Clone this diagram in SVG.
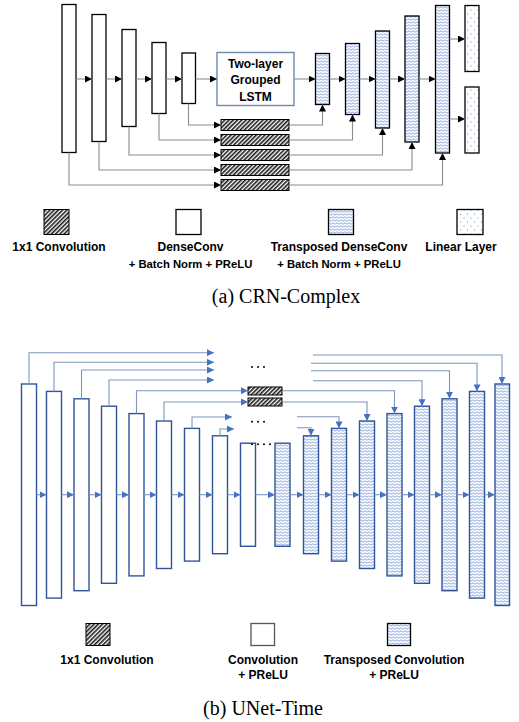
<svg xmlns="http://www.w3.org/2000/svg" width="519" height="722" viewBox="0 0 519 722">
<defs>
<pattern id="hatch" width="3" height="3" patternUnits="userSpaceOnUse" patternTransform="rotate(45)">
<rect width="3" height="3" fill="#ffffff"/>
<rect width="1.6" height="3" fill="#1a1a1a"/>
</pattern>
<pattern id="wave" width="4" height="3" patternUnits="userSpaceOnUse">
<rect width="4" height="3" fill="#ffffff"/>
<path d="M0 1.5 Q1 0 2 1.5 T4 1.5" fill="none" stroke="#6A8FD6" stroke-width="0.8"/>
</pattern>
<pattern id="dots" width="7" height="8" patternUnits="userSpaceOnUse">
<rect width="7" height="8" fill="#ffffff"/>
<circle cx="2" cy="2" r="0.55" fill="#4472C4"/>
<circle cx="5.5" cy="6" r="0.55" fill="#4472C4"/>
</pattern>
<marker id="ab" viewBox="0 0 10 10" refX="10" refY="5" markerWidth="7" markerHeight="7" markerUnits="userSpaceOnUse" orient="auto">
<path d="M0 0 L10 5 L0 10 Z" fill="#000000"/>
</marker>
<marker id="au" viewBox="0 0 10 10" refX="10" refY="5" markerWidth="7" markerHeight="7" markerUnits="userSpaceOnUse" orient="auto">
<path d="M0 0 L10 5 L0 10 Z" fill="#4472C4"/>
</marker>
</defs>
<style>
.eb{fill:#ffffff;stroke:#000000;stroke-width:1.3}
.tb{fill:url(#wave);stroke:#000000;stroke-width:1.3}
.lb{fill:url(#dots);stroke:#000000;stroke-width:1.3}
.hb{fill:url(#hatch);stroke:#000000;stroke-width:1}
.ln{fill:none;stroke:#8C8C8C;stroke-width:1.1;marker-end:url(#ab)}
.ue{fill:#ffffff;stroke:#2F5597;stroke-width:1.4}
.ud{fill:url(#wave);stroke:#2F5597;stroke-width:1.4}
.ul{fill:none;stroke:#7F95BD;stroke-width:1.1;marker-end:url(#au)}
.lbl{font-family:"Liberation Sans",Arial,sans-serif;font-weight:bold;font-size:12px;text-anchor:middle;fill:#000000}
.sm{font-size:11.3px}
.cap{font-family:"Liberation Serif","Times New Roman",serif;font-size:20px;text-anchor:middle;fill:#000000}
.dot{fill:#000000}
</style>

<!-- (a) CRN-Complex -->
<g id="a-enc1"><rect class="eb" x="62" y="4.5" width="14" height="148"/></g>
<g id="a-enc2"><rect class="eb" x="92" y="14.5" width="14" height="127"/></g>
<g id="a-enc3"><rect class="eb" x="122" y="29.5" width="14" height="97"/></g>
<g id="a-enc4"><rect class="eb" x="152" y="42.5" width="14" height="71"/></g>
<g id="a-enc5"><rect class="eb" x="182" y="53" width="13.5" height="50.5"/></g>
<g id="a-lstm">
<rect x="217" y="52.5" width="77" height="53" fill="#ffffff" stroke="#6F87B3" stroke-width="1.4"/>
<text class="lbl" x="255.5" y="67.5">Two-layer</text>
<text class="lbl" x="255.5" y="84">Grouped</text>
<text class="lbl" x="255.5" y="100.5">LSTM</text>
</g>
<g id="a-dec1"><rect class="tb" x="315.5" y="53.5" width="14" height="51"/></g>
<g id="a-dec2"><rect class="tb" x="345.5" y="43.5" width="14" height="71"/></g>
<g id="a-dec3"><rect class="tb" x="375.5" y="31" width="14" height="97"/></g>
<g id="a-dec4"><rect class="tb" x="405" y="16" width="14" height="126"/></g>
<g id="a-dec5"><rect class="tb" x="435.5" y="5.5" width="14" height="147.5"/></g>
<g id="a-lin1"><rect class="lb" x="465" y="5.5" width="14" height="66"/></g>
<g id="a-lin2"><rect class="lb" x="465" y="87" width="14" height="66"/></g>
<g id="a-conv1"><rect class="hb" x="221" y="119.5" width="68" height="11"/></g>
<g id="a-conv2"><rect class="hb" x="221" y="134.5" width="68" height="11"/></g>
<g id="a-conv3"><rect class="hb" x="221" y="149.5" width="68" height="11"/></g>
<g id="a-conv4"><rect class="hb" x="221" y="164.5" width="68" height="11"/></g>
<g id="a-conv5"><rect class="hb" x="221" y="179.5" width="68" height="11"/></g>

<g id="a-connectors">
<path class="ln" d="M76 79 H92"/>
<path class="ln" d="M106 79 H122"/>
<path class="ln" d="M136 79 H152"/>
<path class="ln" d="M166 79 H182"/>
<path class="ln" d="M195.5 79 H217"/>
<path class="ln" d="M294 79 H315.5"/>
<path class="ln" d="M329.5 79 H345.5"/>
<path class="ln" d="M359.5 79 H375.5"/>
<path class="ln" d="M389.5 79 H405"/>
<path class="ln" d="M419 79 H435.5"/>
<path class="ln" d="M449.5 39 H465"/>
<path class="ln" d="M449.5 119 H465"/>
<path class="ln" d="M188.5 103.5 V125 H221"/>
<path class="ln" d="M159 113.5 V140 H221"/>
<path class="ln" d="M129 126.5 V155 H221"/>
<path class="ln" d="M99 141.5 V170 H221"/>
<path class="ln" d="M69 152.5 V185 H221"/>
<path class="ln" d="M289 125 H322.5 V104.5"/>
<path class="ln" d="M289 140 H352.5 V114.5"/>
<path class="ln" d="M289 155 H382.5 V128"/>
<path class="ln" d="M289 170 H412 V142"/>
<path class="ln" d="M289 185 H442.5 V153"/>
</g>

<g id="a-legend">
<rect class="hb" x="44" y="209.5" width="25" height="25"/>
<rect class="eb" x="176" y="209.5" width="25" height="25"/>
<rect class="tb" x="328.5" y="209.5" width="25" height="25"/>
<rect class="lb" x="457" y="209.5" width="26" height="25"/>
<text class="lbl" x="59" y="251">1x1 Convolution</text>
<text class="lbl" x="190.5" y="251">DenseConv</text>
<text class="lbl sm" x="190.5" y="268">+ Batch Norm + PReLU</text>
<text class="lbl" x="339" y="251">Transposed DenseConv</text>
<text class="lbl sm" x="339" y="268">+ Batch Norm + PReLU</text>
<text class="lbl" x="461" y="251">Linear Layer</text>
<text class="cap" x="286" y="303">(a) CRN-Complex</text>
</g>

<!-- (b) UNet-Time -->
<g id="b-enc1"><rect class="ue" x="21.5" y="384" width="15" height="221.5"/></g>
<g id="b-enc2"><rect class="ue" x="46.5" y="391.4" width="15" height="206.7"/></g>
<g id="b-enc3"><rect class="ue" x="74" y="398.8" width="15" height="191.9"/></g>
<g id="b-enc4"><rect class="ue" x="101.5" y="406.2" width="15" height="177.1"/></g>
<g id="b-enc5"><rect class="ue" x="129" y="413.6" width="15" height="162.3"/></g>
<g id="b-enc6"><rect class="ue" x="156.5" y="421" width="15" height="147.5"/></g>
<g id="b-enc7"><rect class="ue" x="184.5" y="428.4" width="15" height="132.7"/></g>
<g id="b-enc8"><rect class="ue" x="212.5" y="435.8" width="15" height="117.9"/></g>
<g id="b-enc9"><rect class="ue" x="240.5" y="443.2" width="15" height="103.1"/></g>
<g id="b-dec1"><rect class="ud" x="275" y="443.2" width="15" height="103.1"/></g>
<g id="b-dec2"><rect class="ud" x="303.5" y="435.8" width="15" height="117.9"/></g>
<g id="b-dec3"><rect class="ud" x="331.5" y="428.4" width="15" height="132.7"/></g>
<g id="b-dec4"><rect class="ud" x="359.5" y="421" width="15" height="147.5"/></g>
<g id="b-dec5"><rect class="ud" x="387" y="413.6" width="15" height="162.3"/></g>
<g id="b-dec6"><rect class="ud" x="414.5" y="406.2" width="15" height="177.1"/></g>
<g id="b-dec7"><rect class="ud" x="442" y="398.8" width="15" height="191.9"/></g>
<g id="b-dec8"><rect class="ud" x="469.5" y="391.4" width="15" height="206.7"/></g>
<g id="b-dec9"><rect class="ud" x="495" y="384" width="14.5" height="221.5"/></g>
<g id="b-conv1"><rect class="hb" x="248" y="387" width="34" height="8"/></g>
<g id="b-conv2"><rect class="hb" x="248" y="398" width="34" height="8"/></g>
<g id="b-dots">
<circle class="dot" cx="252" cy="367" r="1"/><circle class="dot" cx="258" cy="367" r="1"/><circle class="dot" cx="264" cy="367" r="1"/>
<circle class="dot" cx="252" cy="421.7" r="1"/><circle class="dot" cx="258" cy="421.7" r="1"/><circle class="dot" cx="264" cy="421.7" r="1"/>
<circle class="dot" cx="252" cy="444.3" r="1"/><circle class="dot" cx="258" cy="444.3" r="1"/><circle class="dot" cx="264" cy="444.3" r="1"/><circle class="dot" cx="270" cy="444.3" r="1"/>
</g>

<g id="b-connectors">
<path class="ul" d="M36.5 494.7 H46.5"/>
<path class="ul" d="M61.5 494.7 H74"/>
<path class="ul" d="M89 494.7 H101.5"/>
<path class="ul" d="M116.5 494.7 H129"/>
<path class="ul" d="M144 494.7 H156.5"/>
<path class="ul" d="M171.5 494.7 H184.5"/>
<path class="ul" d="M199.5 494.7 H212.5"/>
<path class="ul" d="M227.5 494.7 H240.5"/>
<path class="ul" d="M255.5 494.7 H275"/>
<path class="ul" d="M290 494.7 H303.5"/>
<path class="ul" d="M318.5 494.7 H331.5"/>
<path class="ul" d="M346.5 494.7 H359.5"/>
<path class="ul" d="M374.5 494.7 H387"/>
<path class="ul" d="M402 494.7 H414.5"/>
<path class="ul" d="M429.5 494.7 H442"/>
<path class="ul" d="M457 494.7 H469.5"/>
<path class="ul" d="M484.5 494.7 H495"/>
<path class="ul" d="M29 384 V352.7 H214"/>
<path class="ul" d="M54 391.4 V362.3 H214"/>
<path class="ul" d="M81.5 398.8 V370 H214"/>
<path class="ul" d="M109 406.2 V380 H214"/>
<path class="ul" d="M136.5 413.6 V390.7 H248"/>
<path class="ul" d="M164 421 V402 H248"/>
<path class="ul" d="M192 428.4 V417 H232"/>
<path class="ul" d="M220 435.8 V429 H234"/>
<path class="ul" d="M313 355 H502 V384"/>
<path class="ul" d="M311 363.3 H477 V391.4"/>
<path class="ul" d="M311 370.7 H449.5 V398.8"/>
<path class="ul" d="M313 380.7 H422 V406.2"/>
<path class="ul" d="M282 390.7 H394.5 V413.6"/>
<path class="ul" d="M282 402 H367 V421"/>
<path class="ul" d="M297 416.7 H339 V428.4"/>
<path class="ul" d="M297 427.7 H311 V435.8"/>
</g>

<g id="b-legend">
<rect class="hb" x="86" y="623.5" width="24" height="22" stroke="#555555"/>
<rect x="251" y="623.5" width="23.5" height="22" fill="#ffffff" stroke="#555555" stroke-width="1.3"/>
<rect x="387.5" y="623.5" width="23" height="22" fill="url(#wave)" stroke="#000000" stroke-width="1.3"/>
<text class="lbl" x="107" y="664">1x1 Convolution</text>
<text class="lbl" x="263" y="664">Convolution</text>
<text class="lbl" x="263" y="679">+ PReLU</text>
<text class="lbl" x="394" y="664">Transposed Convolution</text>
<text class="lbl" x="394" y="679">+ PReLU</text>
<text class="cap" x="263" y="715">(b) UNet-Time</text>
</g>
</svg>
